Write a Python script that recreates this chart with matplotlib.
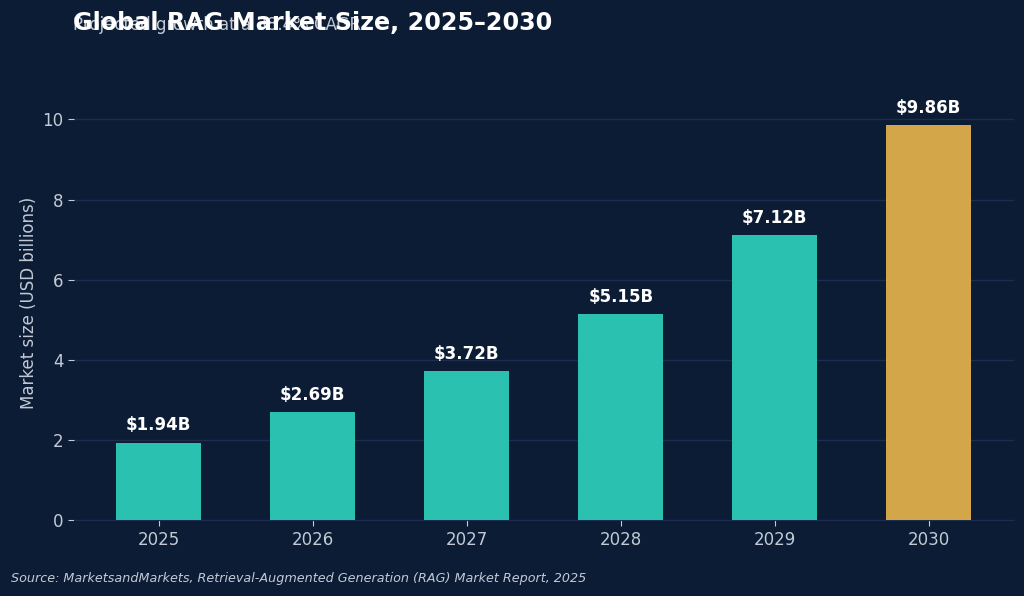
import numpy as np
import matplotlib
matplotlib.use("Agg")
import matplotlib.pyplot as plt

# ---------------------------------------------------------------------------
# DATA
# ---------------------------------------------------------------------------
years  = ["2025", "2026", "2027", "2028", "2029", "2030"]
values = [1.94, 2.69, 3.72, 5.15, 7.12, 9.86]
labels = ["$1.94B", "$2.69B", "$3.72B", "$5.15B", "$7.12B", "$9.86B"]

# ---------------------------------------------------------------------------
# STYLE
# ---------------------------------------------------------------------------
BG    = "#0b1c34"
TEAL  = "#2ac1b0"
GOLD  = "#d4a64a"
GRID  = "#1c2d4f"
TICK  = "#c3cad6"

fig, ax = plt.subplots(figsize=(10.24, 5.96), dpi=100)
fig.patch.set_facecolor(BG)
ax.set_facecolor(BG)
fig.subplots_adjust(left=0.072, right=0.99, top=0.857, bottom=0.127)

x = np.arange(len(years))
colors = [TEAL] * (len(years) - 1) + [GOLD]
bars = ax.bar(x, values, width=0.55, color=colors, zorder=3)

for b, lab in zip(bars, labels):
    ax.text(b.get_x() + b.get_width() / 2, b.get_height() + 0.2, lab,
            ha="center", va="bottom", fontsize=12, fontweight="bold",
            color="white", zorder=4)

ax.set_ylim(0, 10.85)
ax.set_yticks([0, 2, 4, 6, 8, 10])
ax.set_xticks(x)
ax.set_xticklabels(years)
ax.yaxis.grid(True, color=GRID, linewidth=1.0, zorder=0)
ax.set_axisbelow(True)

for s in ["top", "right", "left"]:
    ax.spines[s].set_visible(False)
ax.spines["bottom"].set_color(GRID)

ax.tick_params(colors=TICK, labelsize=12)
ax.tick_params(axis="x", length=4, color=TICK)
ax.tick_params(axis="y", length=4, color=TICK)
ax.set_ylabel("Market size (USD billions)", color=TICK, fontsize=12,
              labelpad=3)

# ---------------------------------------------------------------------------
# TITLES (subtitle sits under the title, as in the source)
# ---------------------------------------------------------------------------
fig.text(0.071, 0.958, "Projected growth at a 38.4% CAGR",
         fontsize=12, color=TICK, ha="left", va="center", zorder=1)
fig.text(0.071, 0.962, "Global RAG Market Size, 2025\u20132030",
         fontsize=17.2, fontweight="bold", color="white",
         ha="left", va="center", zorder=2)

fig.text(0.011, 0.030,
         "Source: MarketsandMarkets, Retrieval-Augmented Generation (RAG) Market Report, 2025",
         fontsize=9.2, style="italic", color=TICK, ha="left", va="center")

fig.savefig("out.png", dpi=100, facecolor=BG)
